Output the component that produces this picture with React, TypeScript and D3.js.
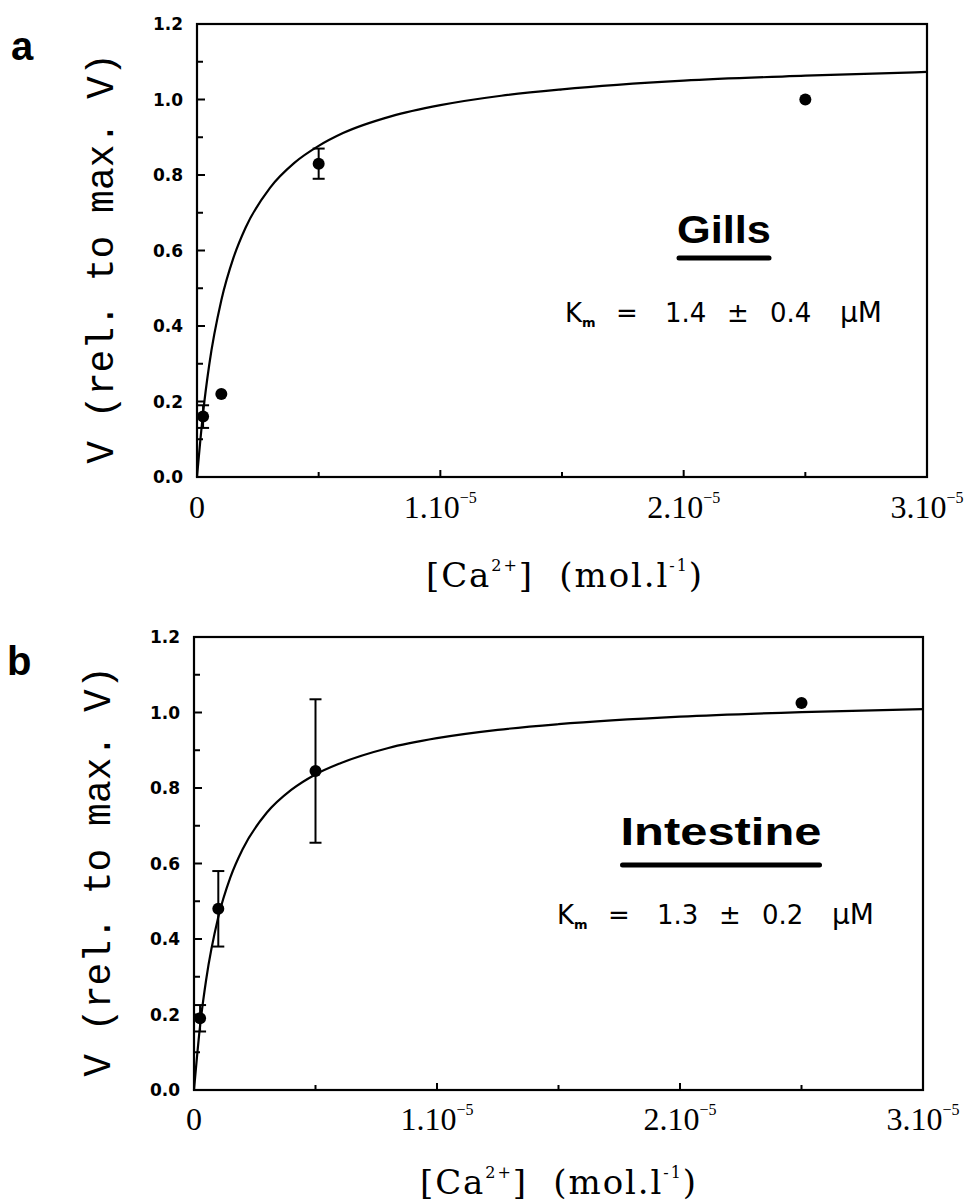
import * as d3 from 'd3';

// measured Ca2+ concentrations (mol/l)
const CONC = [2.5e-7, 1e-6, 5e-6, 2.5e-5];
const GILLS_V = [0.16, 0.22, 0.83, 1.0];
const GILLS_ERR = [0.03, 0, 0.04, 0];
const INTESTINE_V = [0.19, 0.48, 0.845, 1.025];
const INTESTINE_ERR = [0.035, 0.1, 0.19, 0];

// fitted Michaelis-Menten curves
const FIT_X = [0, 0.25e-6, 0.5e-6, 1e-6, 1.5e-6, 2e-6, 3e-6, 4e-6, 5e-6, 6e-6, 8e-6, 1e-5, 1.25e-5, 1.5e-5, 2e-5, 2.5e-5, 3e-5];
const GILLS_FIT = [0, 0.17, 0.296, 0.468, 0.581, 0.661, 0.766, 0.832, 0.877, 0.911, 0.956, 0.985, 1.01, 1.027, 1.05, 1.063, 1.073];
const INTESTINE_FIT = [0, 0.17, 0.292, 0.458, 0.564, 0.638, 0.735, 0.795, 0.836, 0.865, 0.906, 0.932, 0.954, 0.969, 0.989, 1.001, 1.009];

const X_TICKS = [0, 1e-5, 2e-5, 3e-5];
const X_TICK_LABELS = ['0', '1.10', '2.10', '3.10'];
const X_MINOR = [0.5e-5, 1.5e-5, 2.5e-5];
const Y_TICKS = [0, 0.2, 0.4, 0.6, 0.8, 1.0, 1.2];
const Y_MINOR = [0.1, 0.3, 0.5, 0.7, 0.9, 1.1];

const PANELS = [
  { letter: 'a', name: 'Gills', km: '1.4', kmErr: '0.4', v: GILLS_V, err: GILLS_ERR, fit: GILLS_FIT,
    left: 197, right: 927, top: 24, bottom: 477, letterX: 11, letterY: 60,
    nameX: 724, nameY: 243, nameW: 94, lineY: 258, kmY: 322, kmX: 565, tickY: 518, titleX: 564, titleY: 587 },
  { letter: 'b', name: 'Intestine', km: '1.3', kmErr: '0.2', v: INTESTINE_V, err: INTESTINE_ERR, fit: INTESTINE_FIT,
    left: 194, right: 923, top: 637, bottom: 1090, letterX: 7, letterY: 675,
    nameX: 721, nameY: 845, nameW: 201, lineY: 865, kmY: 924, kmX: 557, tickY: 1130, titleX: 558, titleY: 1194 },
];

function Panel({ p }) {
  const x = d3.scaleLinear().domain([0, 3e-5]).range([p.left, p.right]);
  const y = d3.scaleLinear().domain([0, 1.2]).range([p.bottom, p.top]);
  const line = d3.line<number>()
    .x((_, i) => x(FIT_X[i]))
    .y(d => y(d))
    .curve(d3.curveMonotoneX);
  const serif = '"Liberation Serif", "Times New Roman", serif';
  const wideSerif = '"DejaVu Serif", serif';
  const sans = '"Liberation Sans", Arial, sans-serif';
  const kx = p.kmX;
  return (
    <g>
      <text x={p.letterX} y={p.letterY} fontFamily={sans} fontWeight="bold" fontSize={40}>{p.letter}</text>
      {/* frame */}
      <rect x={p.left} y={p.top} width={p.right - p.left} height={p.bottom - p.top} fill="none" stroke="#000" strokeWidth={2.2} />
      {/* y ticks */}
      {Y_TICKS.map(t => (
        <g key={'y' + t}>
          <line x1={p.left} x2={p.left + 8} y1={y(t)} y2={y(t)} stroke="#000" strokeWidth={2} />
          <text x={p.left - 14} y={y(t)} dy="0.38em" textAnchor="end" fontFamily='"DejaVu Sans", sans-serif' fontWeight="bold" fontSize={17}>{t.toFixed(1)}</text>
        </g>
      ))}
      {Y_MINOR.map(t => (
        <line key={'ym' + t} x1={p.left} x2={p.left + 6} y1={y(t)} y2={y(t)} stroke="#000" strokeWidth={2} />
      ))}
      {/* x ticks */}
      {X_TICKS.map((t, i) => (
        <g key={'x' + t}>
          <line x1={x(t)} x2={x(t)} y1={p.bottom} y2={p.bottom - 7} stroke="#000" strokeWidth={2} />
          <text x={x(t)} y={p.tickY} textAnchor="middle" fontFamily={serif} fontSize={32}>
            {X_TICK_LABELS[i]}
            {i > 0 && <tspan fontSize={16} dy={-15}>{'\u2212'}5</tspan>}
          </text>
        </g>
      ))}
      {X_MINOR.map(t => (
        <line key={'xm' + t} x1={x(t)} x2={x(t)} y1={p.bottom} y2={p.bottom - 5} stroke="#000" strokeWidth={2} />
      ))}
      {/* axis titles */}
      <text transform={`translate(${p.left - 84},${(p.top + p.bottom) / 2 + 8}) rotate(-90)`} textAnchor="middle"
        fontFamily='"Liberation Mono", "Courier New", monospace' fontSize={38}>V (rel. to max. V)</text>
      <text x={p.titleX} y={p.titleY} textAnchor="middle" fontFamily={wideSerif} fontSize={34}
        textLength={276} lengthAdjust="spacing" style={{ whiteSpace: 'pre' }}>
        [Ca<tspan fontSize={16} dy={-16}>2+</tspan><tspan dy={16}>]  (mol.l</tspan><tspan fontSize={16} dy={-16}>-1</tspan><tspan dy={16}>)</tspan>
      </text>
      {/* fit curve */}
      <path d={line(p.fit) || ''} fill="none" stroke="#000" strokeWidth={2.2} />
      {/* error bars and points */}
      {CONC.map((c, i) => p.err[i] > 0 && (
        <g key={'e' + i} stroke="#000" strokeWidth={2}>
          <line x1={x(c)} x2={x(c)} y1={y(p.v[i] - p.err[i])} y2={y(p.v[i] + p.err[i])} />
          <line x1={x(c) - 6} x2={x(c) + 6} y1={y(p.v[i] - p.err[i])} y2={y(p.v[i] - p.err[i])} />
          <line x1={x(c) - 6} x2={x(c) + 6} y1={y(p.v[i] + p.err[i])} y2={y(p.v[i] + p.err[i])} />
        </g>
      ))}
      {CONC.map((c, i) => (
        <circle key={'p' + i} cx={x(c)} cy={y(p.v[i])} r={6} fill="#000" />
      ))}
      {/* annotation */}
      <text x={p.nameX} y={p.nameY} textAnchor="middle" fontFamily={sans} fontWeight="bold" fontSize={39}
        textLength={p.nameW} lengthAdjust="spacingAndGlyphs">{p.name}</text>
      <line x1={p.nameX - p.nameW / 2 + 2} x2={p.nameX + p.nameW / 2 - 2} y1={p.lineY} y2={p.lineY}
        stroke="#000" strokeWidth={5} strokeLinecap="round" />
      <g fontFamily='"DejaVu Sans", sans-serif' fontSize={26}>
        <text x={kx} y={p.kmY}>K<tspan fontSize={13} fontWeight="bold" dy={5}>m</tspan></text>
        <text x={kx + 62} y={p.kmY} textAnchor="middle">=</text>
        <text x={kx + 100} y={p.kmY}>{p.km}</text>
        <text x={kx + 173} y={p.kmY} textAnchor="middle">±</text>
        <text x={kx + 205} y={p.kmY}>{p.kmErr}</text>
        <text x={kx + 275} y={p.kmY} fontSize={28}>μM</text>
      </g>
    </g>
  );
}

export default function App() {
  return (
    <svg width={973} height={1203} style={{ position: 'absolute', left: 0, top: 0, background: '#fff' }}>
      <rect width={973} height={1203} fill="#fff" />
      {PANELS.map(p => <Panel key={p.letter} p={p} />)}
    </svg>
  );
}
